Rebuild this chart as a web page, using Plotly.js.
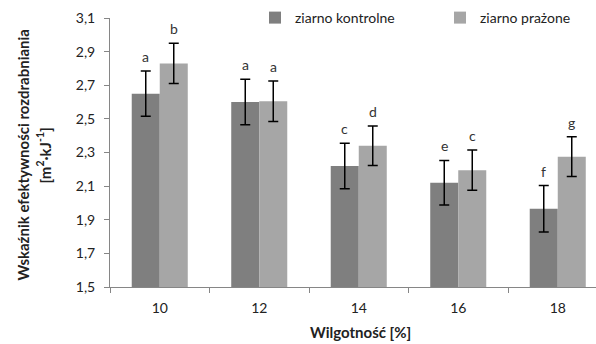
<!DOCTYPE html>
<html><head><meta charset="utf-8">
<script src="https://cdn.plot.ly/plotly-3.0.1.min.js"></script>
<style>html,body{margin:0;padding:0;background:#fff}</style>
</head><body><div id="chart"></div>
<script>
const categories = ['10','12','14','16','18'];
const seriesNames = ['ziarno kontrolne','ziarno prażone'];
const controlValues = [2.65, 2.60, 2.22, 2.12, 1.965];
const controlErrors = [0.135, 0.135, 0.135, 0.133, 0.138];
const roastedValues = [2.83, 2.605, 2.34, 2.195, 2.275];
const roastedErrors = [0.12, 0.12, 0.118, 0.12, 0.118];
const controlLetters = ['a','a','c','e','f'];
const roastedLetters = ['b','a','d','c','g'];
const yTicks = [1.5,1.7,1.9,2.1,2.3,2.5,2.7,2.9,3.1];
const yTitleLine1 = 'Wskaźnik efektywności rozdrabniania';
const yTitleLine2 = '[m<sup>2</sup>·kJ<sup>-1</sup>]';
const xTitle = 'Wilgotność [%]';

const FONT = 'Lato, "Open Sans", sans-serif';
const traces = [
  {type:'bar', name:seriesNames[0], x:categories, y:controlValues,
   marker:{color:'#7f7f7f'},
   error_y:{type:'data', array:controlErrors, visible:true, color:'#000', thickness:1.5, width:5}},
  {type:'bar', name:seriesNames[1], x:categories, y:roastedValues,
   marker:{color:'#a6a6a6'},
   error_y:{type:'data', array:roastedErrors, visible:true, color:'#000', thickness:1.5, width:5}}
];
const off = 0.14;
const annotations = [];
categories.forEach((c,i)=>{
  annotations.push({x:i-off, y:controlValues[i]+controlErrors[i], xref:'x', yref:'y', text:controlLetters[i],
    showarrow:false, yanchor:'bottom', yshift:4, font:{family:FONT,size:14,color:'#333'}});
  annotations.push({x:i+off, y:roastedValues[i]+roastedErrors[i], xref:'x', yref:'y', text:roastedLetters[i],
    showarrow:false, yanchor:'bottom', yshift:4, font:{family:FONT,size:14,color:'#333'}});
});
// axis titles
annotations.push({xref:'paper', yref:'paper', x:0, xshift:-88, y:0.5, yshift:-3, text:'<b>'+yTitleLine1+'</b>',
  textangle:-90, showarrow:false, xanchor:'center', yanchor:'middle', font:{family:FONT,size:15,color:'#222'}});
annotations.push({xref:'paper', yref:'paper', x:0, xshift:-66, y:0.5, yshift:-3, text:'<b>'+yTitleLine2+'</b>',
  textangle:-90, showarrow:false, xanchor:'center', yanchor:'middle', font:{family:FONT,size:15,color:'#222'}});
annotations.push({xref:'paper', yref:'paper', x:0.5, xshift:7, y:0, yshift:-45, text:'<b>'+xTitle+'</b>',
  showarrow:false, xanchor:'center', yanchor:'middle', font:{family:FONT,size:15,color:'#222'}});
const layout = {
  width:596, height:344,
  margin:{l:110, r:0, t:18, b:57, autoexpand:false},
  paper_bgcolor:'#fff', plot_bgcolor:'#fff',
  font:{family:FONT, size:13, color:'#222'},
  separators:', ',
  barmode:'group', bargap:0.437, bargroupgap:0,
  showlegend:true,
  legend:{orientation:'h', x:(255-110)/486, xanchor:'left', y:1, yanchor:'middle',
    font:{family:FONT,size:14,color:'#222'}, entrywidth:140, entrywidthmode:'pixels', bgcolor:'rgba(0,0,0,0)'},
  xaxis:{type:'category', range:[-0.5,-0.5+486/99.5], showline:true, linecolor:'#868686', linewidth:1,
    ticks:'outside', tickson:'boundaries', ticklen:5, tickcolor:'#868686',
    tickfont:{family:FONT,size:14,color:'#222'}, ticklabelstandoff:8,
    showgrid:false, zeroline:false, fixedrange:true},
  yaxis:{range:[1.5,3.1], tickvals:yTicks, tickformat:'.1f', showline:true, linecolor:'#868686', linewidth:1,
    ticks:'outside', ticklen:5, tickcolor:'#868686',
    tickfont:{family:FONT,size:14,color:'#222'}, ticklabelstandoff:6,
    showgrid:false, zeroline:false, fixedrange:true},
  annotations:annotations
};
Plotly.newPlot('chart', traces, layout, {displayModeBar:false, staticPlot:true});
</script></body></html>
